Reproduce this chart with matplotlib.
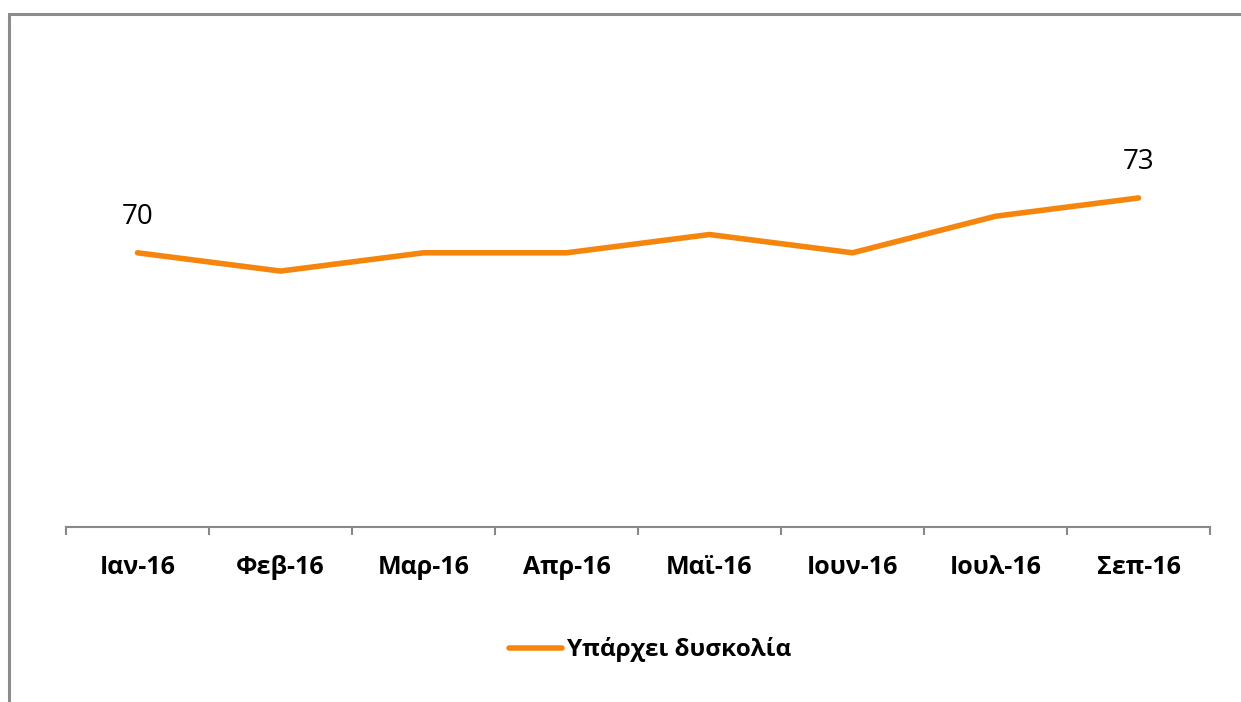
import matplotlib
matplotlib.use('Agg')
import matplotlib.pyplot as plt
from matplotlib.patches import Rectangle

# Data
months = ['Ιαν-16', 'Φεβ-16', 'Μαρ-16', 'Απρ-16', 'Μαϊ-16', 'Ιουν-16', 'Ιουλ-16', 'Σεπ-16']
values = [70, 69, 70, 70, 71, 70, 72, 73]
series_name = 'Υπάρχει δυσκολία'
labelled_points = [0, 7]

line_color = '#F5850C'
plt.rcParams['font.family'] = ['Open Sans', 'DejaVu Sans']

fig = plt.figure(figsize=(12.41, 7.02), dpi=100)
ax = fig.add_axes([66 / 1241, 1 - 527 / 702, (1210 - 66) / 1241, (527 - 70) / 702])

x = list(range(len(months)))
ax.plot(x, values, color=line_color, linewidth=4.0, solid_capstyle='round',
        solid_joinstyle='round', label=series_name)

for i in labelled_points:
    ax.annotate(str(values[i]), (x[i], values[i]), xytext=(0, 26), textcoords='offset points',
                ha='center', va='center', fontsize=20, color='black')

ax.set_xlim(-0.5, len(months) - 0.5)
ax.set_ylim(55, 80)
ax.set_yticks([])
ax.set_xticks(x)
ax.set_xticklabels(months, fontsize=18, fontweight='bold')
ax.tick_params(axis='x', length=0, pad=20)
ax.set_xticks([i - 0.5 for i in range(len(months) + 1)], minor=True)
ax.tick_params(axis='x', which='minor', length=6, width=1.5, color='#888888')

for side in ['top', 'right', 'left']:
    ax.spines[side].set_visible(False)
ax.spines['bottom'].set_color('#888888')
ax.spines['bottom'].set_linewidth(1.5)

leg = fig.legend(loc='center', bbox_to_anchor=(650 / 1241, 1 - 650 / 702), frameon=False,
                 prop={'weight': 'bold', 'size': 17.5}, handlelength=2.2, handletextpad=0.2)

# outer chart border (cropped on right and bottom)
fig.patches.append(Rectangle((8.5 / 1241, -0.05), 1.2, 1 - 13.5 / 702 + 0.05,
                             transform=fig.transFigure, fill=False,
                             edgecolor='#8C8C8C', linewidth=2.2))

fig.savefig('out.png', dpi=100)
